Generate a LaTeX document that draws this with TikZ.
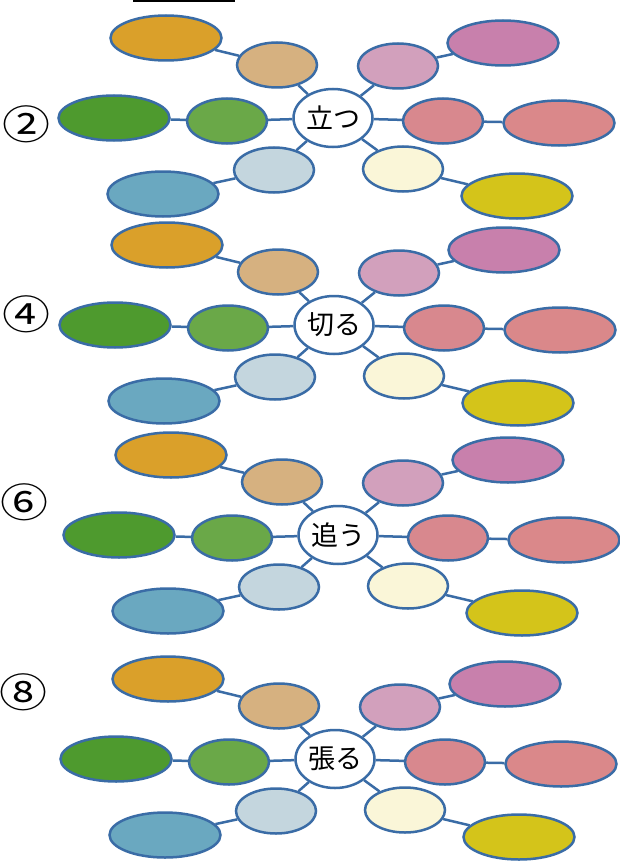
\documentclass[tikz,border=0pt]{standalone}
\usepackage{fontspec}
\usepackage{graphicx}
\newfontfamily\jp{Noto Sans CJK JP}
\usetikzlibrary{shapes.geometric}
\definecolor{edgec}{RGB}{58,108,166}
\definecolor{corange}{RGB}{218,160,42}
\definecolor{ctan}{RGB}{214,177,128}
\definecolor{cdgreen}{RGB}{78,154,46}
\definecolor{clgreen}{RGB}{106,168,72}
\definecolor{clblue}{RGB}{196,214,222}
\definecolor{cblue}{RGB}{106,168,192}
\definecolor{cpink}{RGB}{210,160,188}
\definecolor{cbpink}{RGB}{200,128,172}
\definecolor{crose}{RGB}{216,136,142}
\definecolor{cbrose}{RGB}{218,136,138}
\definecolor{ccream}{RGB}{250,246,216}
\definecolor{cyellow}{RGB}{212,196,26}
\tikzset{
  bub/.style={ellipse, draw=edgec, line width=2.5pt, inner sep=0pt},
  bigb/.style={bub, minimum width=111pt, minimum height=45pt},
  smallb/.style={bub, minimum width=80pt, minimum height=45pt},
  hub/.style={bub, fill=white, minimum width=79pt, minimum height=58pt, font=\jp\fontsize{27}{27}\selectfont},
  conn/.style={draw=edgec, line width=2.5pt},
  num/.style={font=\jp\fontsize{40}{40}\selectfont, inner sep=0pt}
}
\newcommand\mycluster[4]{%
  \begin{scope}[shift={(#2,#3)}]
    \node[hub] (#1c) at (0,0) {#4};
    \node[bigb, fill=corange] (#1o) at (-167,-80) {};
    \node[smallb, fill=ctan] (#1t) at (-56,-53) {};
    \node[bigb, fill=cdgreen] (#1g) at (-219,0) {};
    \node[smallb, fill=clgreen] (#1h) at (-106,3) {};
    \node[smallb, fill=clblue] (#1l) at (-59,52) {};
    \node[bigb, fill=cblue] (#1b) at (-170,76) {};
    \node[smallb, fill=cpink] (#1p) at (65,-52) {};
    \node[bigb, fill=cbpink] (#1q) at (170,-75) {};
    \node[smallb, fill=crose] (#1r) at (110,3) {};
    \node[bigb, fill=cbrose] (#1s) at (226,5) {};
    \node[smallb, fill=ccream] (#1m) at (70,51) {};
    \node[bigb, fill=cyellow] (#1y) at (184,78) {};
  \end{scope}
  \draw[conn] (#1c) -- (#1t);
  \draw[conn] (#1t) -- (#1o);
  \draw[conn] (#1c) -- (#1h);
  \draw[conn] (#1h) -- (#1g);
  \draw[conn] (#1c) -- (#1l);
  \draw[conn] (#1l) -- (#1b);
  \draw[conn] (#1c) -- (#1p);
  \draw[conn] (#1p) -- (#1q);
  \draw[conn] (#1c) -- (#1r);
  \draw[conn] (#1r) -- (#1s);
  \draw[conn] (#1c) -- (#1m);
  \draw[conn] (#1m) -- (#1y);
}
\begin{document}
\begin{tikzpicture}[x=1pt,y=-1pt]
  \useasboundingbox (0,0) rectangle (620,864);
  \fill[white] (0,0) rectangle (620,864);
  \draw[line width=2.5pt] (133,1) -- (235,1);
  \mycluster{a}{333}{118}{立つ}
  \mycluster{b}{334}{325}{切る}
  \mycluster{c}{338}{535}{追う}
  \mycluster{d}{335}{759}{張る}
  \node[num] (n2) at (26,124) {\scalebox{1.2}[1]{②}};
  \node[num] (n4) at (26,314) {\scalebox{1.2}[1]{④}};
  \node[num] (n6) at (24,502) {\scalebox{1.2}[1]{⑥}};
  \node[num] (n8) at (23,692) {\scalebox{1.2}[1]{⑧}};
\end{tikzpicture}
\end{document}
